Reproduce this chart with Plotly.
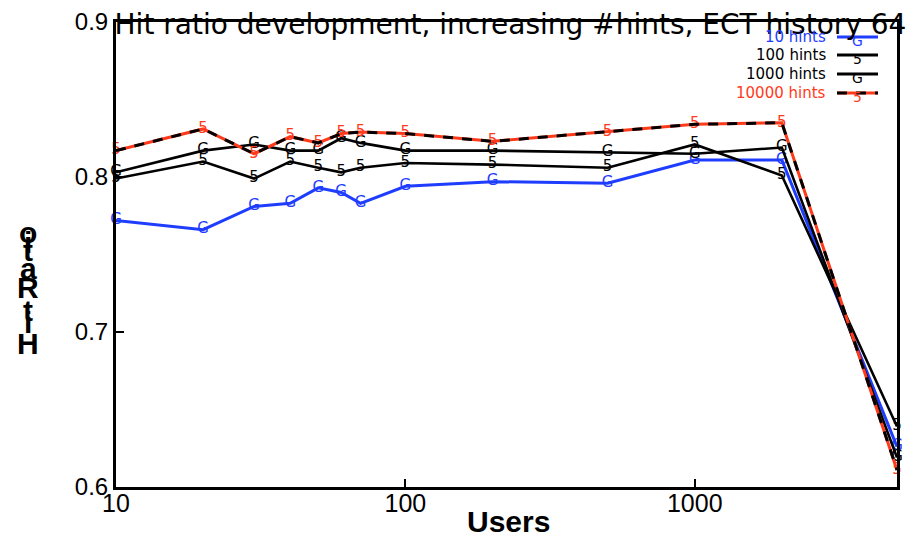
import plotly.graph_objects as go

# Number of simulated users (log axis)
users = [10, 20, 30, 40, 50, 60, 70, 100, 200, 500, 1000, 2000, 5000]

# Hit ratio for each hint budget
hits_10 = [0.772, 0.766, 0.781, 0.783, 0.793, 0.790, 0.783, 0.794, 0.797, 0.796, 0.811, 0.811, 0.626]
hits_100 = [0.799, 0.810, 0.799, 0.810, 0.806, 0.803, 0.806, 0.809, 0.808, 0.806, 0.821, 0.801, 0.639]
hits_1000 = [0.803, 0.817, 0.821, 0.817, 0.817, 0.825, 0.822, 0.817, 0.817, 0.816, 0.815, 0.819, 0.619]
hits_10000 = [0.817, 0.831, 0.815, 0.826, 0.822, 0.828, 0.829, 0.828, 0.823, 0.829, 0.834, 0.835, 0.611]

series_names = ["10 hints", "100 hints", "1000 hints", "10000 hints"]
series_marks = ["G", "5", "G", "5"]

x_tickvals = [10, 100, 1000]
x_ticktext = ["10", "100", "1000"]
y_tickvals = [0.6, 0.7, 0.8, 0.9]
y_ticktext = ["0.6", "0.7", "0.8", "0.9"]

BLUE = "#1f3dff"
RED = "#ff3a1a"
BLACK = "#000000"

fig = go.Figure()


def add_series(values, color, mark, dash=None, width=2.6, with_text=True):
    fig.add_trace(go.Scatter(
        x=users, y=values,
        mode="lines+text" if with_text else "lines",
        text=[mark] * len(users) if with_text else None,
        textposition="middle center",
        textfont=dict(family="DejaVu Sans", size=15, color=color),
        line=dict(color=color, width=width, dash=dash),
        showlegend=False, hoverinfo="skip",
        cliponaxis=False,
    ))


add_series(hits_10, BLUE, series_marks[0], width=3)
add_series(hits_100, BLACK, series_marks[1])
add_series(hits_1000, BLACK, series_marks[2])
# 10000 hints: red line with a black dash pattern overlaid
add_series(hits_10000, RED, series_marks[3], width=3)
add_series(hits_10000, BLACK, None, dash="10px,9px", width=3, with_text=False)

# Plot-area geometry in paper fractions, used for the hand-drawn key
W, H = 918, 537
ML, MR, MT, MB = 116, 21, 22, 50
PW, PH = W - ML - MR, H - MT - MB


def px_x(px):
    return (px - ML) / PW


def px_y(py):
    return 1 - (py - MT) / PH


# Key in the top-right corner: label, then a line sample with the mark
key_rows = [
    (series_names[0], BLUE, None, series_marks[0], BLUE),
    (series_names[1], BLACK, None, series_marks[1], BLACK),
    (series_names[2], BLACK, None, series_marks[2], BLACK),
    (series_names[3], RED, "dash", series_marks[3], RED),
]
row_y = [37, 55, 74, 93]
for (name, color, style, mark, tcolor), ry in zip(key_rows, row_y):
    fig.add_annotation(
        xref="paper", yref="paper", x=px_x(828), y=px_y(ry),
        text=name, showarrow=False, xanchor="right", yanchor="middle",
        font=dict(family="DejaVu Sans", size=15, color=tcolor),
    )
    if style == "dash":
        fig.add_shape(type="line", xref="paper", yref="paper",
                      x0=px_x(837), x1=px_x(878), y0=px_y(ry), y1=px_y(ry),
                      line=dict(color=RED, width=3))
        fig.add_shape(type="line", xref="paper", yref="paper",
                      x0=px_x(837), x1=px_x(878), y0=px_y(ry), y1=px_y(ry),
                      line=dict(color=BLACK, width=3, dash="10px,9px"))
    else:
        fig.add_shape(type="line", xref="paper", yref="paper",
                      x0=px_x(837), x1=px_x(878), y0=px_y(ry), y1=px_y(ry),
                      line=dict(color=color, width=3))
    fig.add_annotation(
        xref="paper", yref="paper", x=px_x(857), y=px_y(ry + 4),
        text=mark, showarrow=False, xanchor="center", yanchor="middle",
        font=dict(family="DejaVu Sans", size=14, color=tcolor),
    )

# Vertical axis title, letters stacked upright and tightly packed
ylabel_letters = ["H", "i", "t", "R", "a", "t", "i", "o"]
ylabel_pos = [343, 322, 310, 287, 268, 251, 242, 232]
for ch, py in zip(ylabel_letters, ylabel_pos):
    fig.add_annotation(
        xref="paper", yref="paper", x=px_x(28), y=px_y(py),
        text="<b>%s</b>" % ch, showarrow=False, xanchor="center", yanchor="middle",
        font=dict(family="Liberation Sans, Arial, sans-serif", size=30, color=BLACK),
    )

# Horizontal axis title
fig.add_annotation(
    xref="paper", yref="paper", x=px_x(508), y=px_y(521),
    text="<b>Users</b>", showarrow=False, xanchor="center", yanchor="middle",
    font=dict(family="Liberation Sans Narrow, Liberation Sans, Arial", size=30, color=BLACK),
)

fig.update_layout(
    width=W, height=H,
    margin=dict(l=ML, r=MR, t=MT, b=MB, pad=0),
    paper_bgcolor="white", plot_bgcolor="white",
    title=dict(
        text="Hit ratio development, increasing #hints, ECT history 64",
        x=(ML + PW / 2 + 4) / W, xanchor="center",
        y=1 - 24 / H, yanchor="middle", yref="container",
        font=dict(family="DejaVu Sans", size=28, color=BLACK),
    ),
    xaxis=dict(
        type="log", range=[1, 3.699], automargin=False,
        tickvals=x_tickvals, ticktext=x_ticktext,
        ticks="inside", ticklen=8, tickwidth=2, tickcolor=BLACK,
        ticklabelstandoff=-8,
        showgrid=False, zeroline=False,
        showline=True, linecolor=BLACK, linewidth=3, mirror=True,
        tickfont=dict(family="Liberation Sans Narrow, Liberation Sans, Arial", size=25, color=BLACK),
    ),
    yaxis=dict(
        range=[0.6, 0.9], automargin=False,
        tickvals=y_tickvals, ticktext=y_ticktext,
        ticks="inside", ticklen=8, tickwidth=2, tickcolor=BLACK,
        showgrid=False, zeroline=False,
        showline=True, linecolor=BLACK, linewidth=3, mirror=True,
        tickfont=dict(family="Liberation Sans, Arial", size=24, color=BLACK),
    ),
)

fig.write_html("out.html")
